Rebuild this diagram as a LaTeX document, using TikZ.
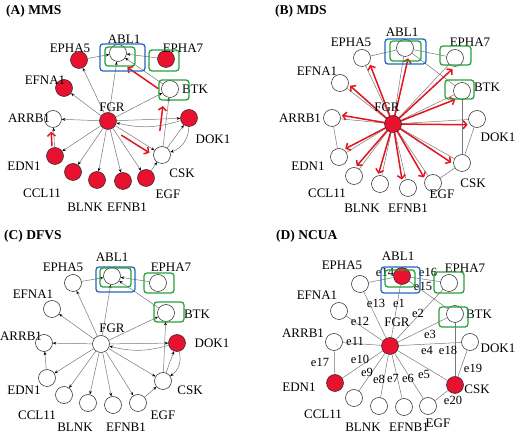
\documentclass[tikz,border=0pt]{standalone}
\usepackage{fontspec}
\setmainfont{Liberation Serif}
\usetikzlibrary{arrows.meta,calc}
\pgfdeclarelayer{back}
\pgfdeclarelayer{bg}
\pgfsetlayers{back,bg,main}
\definecolor{hitred}{RGB}{232,18,48}
\definecolor{arrred}{RGB}{228,20,30}
\definecolor{boxblue}{RGB}{35,105,190}
\definecolor{boxgreen}{RGB}{40,160,60}
\definecolor{edgegray}{RGB}{120,120,120}
\newcommand{\lbfont}{\fontsize{13}{14}\selectfont}
\newcommand{\elfont}{\fontsize{12.5}{13}\selectfont}
\newcommand{\ttfont}{\fontsize{13.5}{15}\selectfont\bfseries}
\tikzset{
  nd/.style={circle, draw=black!85, line width=0.5pt, minimum size=17pt, inner sep=0pt, fill=white},
  hit/.style={nd, fill=hitred},
  lbl/.style={font=\lbfont, inner sep=0pt},
  elbl/.style={font=\elfont, inner sep=0pt},
  ttl/.style={font=\ttfont, anchor=west, inner sep=0pt},
  ge/.style={draw=edgegray, line width=0.5pt},
  de/.style={ge, -{Stealth[length=3.5pt,width=2.8pt,color=black]}},
  ra/.style={draw=arrred, line width=1.5pt, -{Straight Barb[length=3.5pt,width=8pt,line width=1.5pt]}},
  bbox/.style={draw=boxblue, line width=1.3pt, rounded corners=3pt},
  gbox/.style={draw=boxgreen, line width=1.3pt, rounded corners=3pt},
}
\begin{document}
\begin{tikzpicture}[x=1pt,y=-1pt]
\begin{pgfonlayer}{back}
\fill[white] (0,0) rectangle (520,435);
\end{pgfonlayer}
\useasboundingbox (0,0) rectangle (520,435);

% ---------- titles ----------
\node[ttl] (ta) at (6,11) {(A) MMS};
\node[ttl] (tb) at (275,11) {(B) MDS};
\node[ttl] (tc) at (4,236) {(C) DFVS};
\node[ttl] (td) at (276,236) {(D) NCUA};

% ---------- panel A nodes ----------
\foreach \n/\x/\y/\s in {abl1/118/53/nd, epha5/79/60/hit, epha7/166/59/hit, efna1/64/88/hit,
  btk/170/89/nd, arrb1/53/119/nd, fgr/108/121/hit, dok1/189/118/hit, edn1/55/156/hit,
  csk/162/155/nd, ccl11/73/172/hit, blnk/97/180/hit, efnb1/123/181/hit, egf/146/178/hit}
  \node[\s] (a-\n) at (\x,\y) {};
\foreach \t/\x/\y in {EPHA5/70/48, ABL1/124/39, EPHA7/183/48, EFNA1/45/80, BTK/195/89,
  FGR/112/107, ARRB1/29/118, DOK1/213/139, EDN1/24/166, CSK/182/173, CCL11/42/193,
  BLNK/85/207, EFNB1/127/207, EGF/168/194}
  \node[lbl] (la-\t) at (\x,\y) {\t};

% ---------- panel B nodes ----------
\foreach \n/\x/\y/\s in {abl1/405/48/nd, epha5/362/58/nd, epha7/455/58/nd, efna1/340/83/nd,
  btk/462/91/nd, arrb1/332/118/nd, fgr/393/124/hit, dok1/477/119/nd, edn1/339/157/nd,
  csk/462/163/nd, ccl11/354/176/nd, blnk/380/184/nd, efnb1/408/188/nd, egf/433/183/nd}
  \node[\s] (b-\n) at (\x,\y) {};
\foreach \t/\x/\y in {EPHA5/351/42, ABL1/402/32, EPHA7/470/42, EFNA1/317/71, BTK/487/87,
  FGR/387/107, ARRB1/300/118, DOK1/498/137, EDN1/308/166, CSK/473/183, CCL11/327/193,
  BLNK/362/208, EFNB1/408/208, EGF/442/194}
  \node[lbl] (lb-\t) at (\x,\y) {\t};

% ---------- panel C nodes ----------
\foreach \n/\x/\y/\s in {abl1/112/276/nd, epha5/73/283/nd, epha7/158/283/nd, efna1/52/309/nd,
  btk/166/313/nd, arrb1/44/343/nd, fgr/101/344/nd, dok1/177/343/hit, edn1/47/378/nd,
  csk/163/381/nd, ccl11/64/395/nd, blnk/88/403/nd, efnb1/113/405/nd, egf/138/403/nd}
  \node[\s] (c-\n) at (\x,\y) {};
\foreach \t/\x/\y in {EPHA5/63/267, ABL1/112/257, EPHA7/171/267, EFNA1/33/294, BTK/197/314,
  FGR/112/328, ARRB1/21/336, DOK1/212/343, EDN1/24/390, CSK/190/390, CCL11/37/415,
  BLNK/75/427, EFNB1/126/427, EGF/163/415}
  \node[lbl] (lc-\t) at (\x,\y) {\t};

% ---------- panel D nodes ----------
\foreach \n/\x/\y/\s in {abl1/402/276/hit, epha5/360/284/nd, epha7/449/283/nd, efna1/339/311/nd,
  btk/455/314/nd, arrb1/334/342/nd, fgr/390/346/hit, dok1/470/342/nd, edn1/335/383/hit,
  csk/455/385/hit, ccl11/354/398/nd, blnk/379/406/nd, efnb1/404/407/nd, egf/428/406/nd}
  \node[\s] (d-\n) at (\x,\y) {};
\foreach \t/\x/\y in {EPHA5/342/265, ABL1/398/256, EPHA7/465/268, EFNA1/317/295, BTK/479/314,
  FGR/397/322, ARRB1/303/333, DOK1/498/348, EDN1/299/387, CSK/477/389, CCL11/323/414,
  BLNK/363/427, EFNB1/409/427, EGF/438/423}
  \node[lbl] (ld-\t) at (\x,\y) {\t};
\foreach \t/\x/\y in {e1/399/303, e2/418/313, e3/430/334, e4/427/350, e5/424/374, e6/408/378,
  e7/393/378, e8/379/379, e9/367/372, e10/360/359, e11/355/341, e12/360/321, e13/376/303,
  e14/385/272, e15/423/286, e16/428/272, e17/320/362, e18/448/350, e19/473/368, e20/453/400}
  \node[elbl] (el-\t) at (\x,\y) {\t};

% ---------- edges (behind nodes) ----------
\begin{pgfonlayer}{bg}
  % directed networks A and C
  \foreach \p in {a,c}{
    \foreach \s/\t in {fgr/epha5, fgr/abl1, fgr/btk, fgr/efna1, fgr/arrb1, fgr/dok1,
      fgr/edn1, fgr/ccl11, fgr/blnk, fgr/efnb1, fgr/egf, fgr/csk, epha5/abl1, epha7/abl1,
      btk/abl1, csk/btk, csk/dok1, egf/csk, edn1/arrb1}
      \draw[de] (\p-\s) -- (\p-\t);
    \draw[de] (\p-dok1) to[bend left=15] (\p-fgr);
    \draw[de] (\p-dok1) to[bend left=35] (\p-csk);
  }
  % undirected networks B and D
  \foreach \p in {b,d}{
    \foreach \s/\t in {fgr/abl1, fgr/epha7, fgr/btk, fgr/dok1, fgr/csk, fgr/egf, fgr/efnb1,
      fgr/blnk, fgr/ccl11, fgr/edn1, fgr/arrb1, fgr/efna1, fgr/epha5, epha5/abl1,
      abl1/btk, abl1/epha7, arrb1/edn1, btk/csk, dok1/csk, csk/egf}
      \draw[ge] (\p-\s) -- (\p-\t);
  }
  % red arrows of panel B
  \foreach \t in {abl1, epha7, btk, dok1, csk, egf, efnb1, blnk, ccl11, edn1, arrb1, efna1, epha5}
    \draw[ra, shorten <=5pt, shorten >=9.5pt] (b-fgr.center) -- ($(b-fgr)!1!-4:(b-\t)$);
\end{pgfonlayer}

% red arrows of panel A
\draw[ra, transform canvas={shift={(-2.5pt,0pt)}}, shorten <=1pt, shorten >=4pt] (a-edn1) -- (a-arrb1);
\draw[ra, transform canvas={shift={(-2.6pt,-4.1pt)}}, shorten <=10pt, shorten >=3pt] (a-fgr) -- (a-csk);
\draw[ra, transform canvas={shift={(-5pt,0.6pt)}}, shorten <=15pt, shorten >=9pt] (a-csk) -- (a-btk);
\draw[ra, transform canvas={shift={(-3.6pt,-5.3pt)}}, shorten <=1pt, shorten >=7pt] (a-btk) -- (a-abl1);

% ---------- boxes ----------
\draw[bbox] (100,44) rectangle (145,71);
\draw[gbox] (105,47) rectangle (135,66);
\draw[gbox] (149,50) rectangle (179,71);
\draw[gbox] (159,80) rectangle (189,100);

\draw[bbox] (385,39) rectangle (426,64);
\draw[gbox] (390,41) rectangle (421,61);
\draw[gbox] (440,46) rectangle (471,65);
\draw[gbox] (445,80) rectangle (474,99);

\draw[bbox] (96,267) rectangle (135,292);
\draw[gbox] (100,268) rectangle (131,287);
\draw[gbox] (144,273) rectangle (174,293);
\draw[gbox] (154,302) rectangle (184,322);

\draw[bbox] (381,267) rectangle (420,293);
\draw[gbox] (385,270) rectangle (415,287);
\draw[gbox] (434,272) rectangle (464,293);
\draw[gbox] (439,307) rectangle (468,327);
\end{tikzpicture}
\end{document}
